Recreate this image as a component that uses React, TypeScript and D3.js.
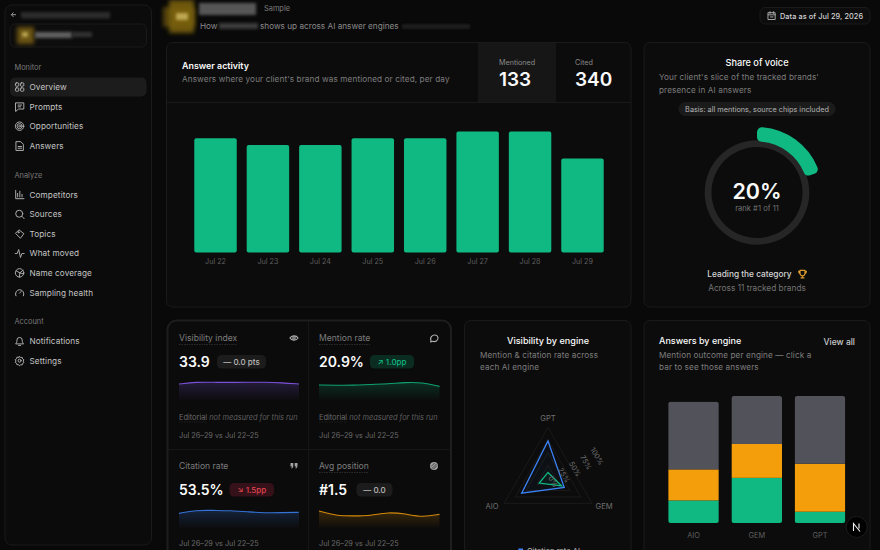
import React, { useEffect, useRef } from 'react'
import * as d3 from 'd3'

const days = ['Jul 22', 'Jul 23', 'Jul 24', 'Jul 25', 'Jul 26', 'Jul 27', 'Jul 28', 'Jul 29']
const dailyAnswers = [17, 16, 16, 17, 17, 18, 18, 14]

const engines = ['AIO', 'GEM', 'GPT']
const engineMentioned = [8, 16, 4]
const engineCitedOnly = [11, 12, 17]
const engineNone = [24, 17, 24]

const radarEngines = ['GPT', 'GEM', 'AIO']
const radarCitation = [73, 37, 60]
const radarMention = [11, 31, 20]
const radarTicks = [0, 25, 50, 75, 100]

const shareOfVoice = 20

const sparkVisibility = [78, 89, 87, 87, 87, 89, 85, 78]
const sparkMention = [73, 71, 71, 76, 78, 87, 87, 65]
const sparkCitation = [69, 87, 85, 84, 78, 71, 73, 75]
const sparkPosition = [82, 56, 55, 56, 76, 67, 47, 64]

const navMonitor = ['Overview', 'Prompts', 'Opportunities', 'Answers']
const navAnalyze = ['Competitors', 'Sources', 'Topics', 'What moved', 'Name coverage', 'Sampling health']
const navAccount = ['Notifications', 'Settings']

const FONT = 'Inter, "Noto Sans", sans-serif'
const GREEN = '#10b981'
const ORANGE = '#f59e0b'
const GREY = '#52525b'
const MUTED = '#7d7d7d'
const WHITE = '#fafafa'
const BORDER = '#1a1a1a'
const CARD = '#0c0c0c'

function Icon({ name, x, y, k = 1 }: { name: string; x: number; y: number; k?: number }) {
  const s = { fill: 'none', stroke: '#b0b0b0', strokeWidth: 1.1, strokeLinecap: 'round', strokeLinejoin: 'round' } as const
  const shapes: Record<string, React.ReactNode> = {
    Overview: (
      <>
        <rect x={0.5} y={0.5} width={3.8} height={3.8} rx={1} />
        <rect x={6.2} y={0.5} width={3.8} height={3.8} rx={1} />
        <rect x={0.5} y={6.2} width={3.8} height={3.8} rx={1} />
        <rect x={6.2} y={6.2} width={3.8} height={3.8} rx={1} />
      </>
    ),
    Prompts: <path d="M1 1h9v7H4L1 10.5zM3.5 3.5h4M3.5 5.5h3" />,
    Opportunities: (
      <>
        <circle cx={5.2} cy={5.2} r={4.8} />
        <circle cx={5.2} cy={5.2} r={2.9} />
        <circle cx={5.2} cy={5.2} r={1} />
      </>
    ),
    Answers: <path d="M1.5.5h5l3 3v7h-8zM3.5 6h4M3.5 8h4" />,
    Competitors: <path d="M.8.5v9.5h9.4M3 8V4M5.5 8V1.5M8 8V5" />,
    Sources: (
      <>
        <circle cx={4.8} cy={4.8} r={4} />
        <path d="M7.8 7.8l2.6 2.6" />
      </>
    ),
    Topics: (
      <>
        <path d="M.8 4.5L4.5.8l5.6 4.4-3.7 4.8z" />
        <circle cx={4} cy={3.6} r={0.7} />
      </>
    ),
    'What moved': <path d="M.3 5.5h2.2L4.2 1l2 9 1.6-4.5h2.6" />,
    'Name coverage': (
      <>
        <circle cx={5.2} cy={5.2} r={4.8} />
        <path d="M1.5 3l4 2.2 3.6-3M5.5 5.2L5 10M5.5 5.2l4.4 1.2" />
      </>
    ),
    'Sampling health': <path d="M1 9a4.8 4.8 0 1 1 8.6 0M5.2 6l1.8-2" />,
    Notifications: <path d="M1 8.2c1-1 1.2-2 1.2-4a3 3 0 0 1 6 0c0 2 .3 3 1.2 4zM4 10.2h2.4" />,
    Settings: (
      <>
        <path d="M5.2.5l1.2 1.3 1.8-.2.4 1.7 1.5 1-.8 1.6.8 1.6-1.5 1-.4 1.6-1.8-.1-1.2 1.2L4 9.8l-1.8.1-.4-1.6-1.5-1 .8-1.6-.8-1.6 1.5-1 .4-1.7 1.8.2z" />
        <circle cx={5.2} cy={5.3} r={1.7} />
      </>
    ),
    calendar: <path d="M1 2h8v8H1zM1 4.5h8M3 .8v2M7 .8v2M3.5 7h3" />,
    eye: (
      <>
        <path d="M.4 4C2 1.4 6.6.9 8.6 4 6.6 7 2 6.6.4 4z" />
        <circle cx={4.5} cy={4} r={1.2} />
      </>
    ),
    bubble: <path d="M1.8 7.6C-.4 3.5 3 .8 5.5 1c3.3.2 4 4 1.7 5.8-1.4.9-2.8.9-3.7.5L1 8z" />,
    quote: (
      <path
        d="M.5 1h2.800v2.800C3.300 5.500 2.400 6.300 1.400 6.500L1.200 5.600c.6-.2 1-.6 1-1.200H.5zM4.700 1h2.800v2.800c0 1.700-.9 2.500-1.900 2.700L5.400 5.600c.6-.2 1-.6 1-1.200H4.700z"
        fill="#a3a3a3"
        stroke="none"
      />
    ),
    target: (
      <>
        <circle cx={4.5} cy={4.5} r={4} fill="#a3a3a3" stroke="none" />
        <path d="M2.5 7l4.500-4.500M1.800 4.800l3-3M4 7.600l3.400-3.400" stroke="#111" strokeWidth={0.7} />
      </>
    ),
    trophy: (
      <path
        d="M2 .8h5v3a2.500 2.500 0 0 1-5 0zM2 1.800H.6c0 1.700.5 2.300 1.600 2.600M7 1.800h1.400c0 1.700-.5 2.300-1.600 2.600M4.500 6.300v1.500M3 8.400h3"
        stroke="#d99a2b"
        strokeWidth={1.2}
      />
    ),
  }
  return (
    <g transform={`translate(${x},${y}) scale(${k})`} {...s}>
      {shapes[name]}
    </g>
  )
}

function Blur({ x, y, w, h, fill, o = 1, f = 'soft' }: { x: number; y: number; w: number; h: number; fill: string; o?: number; f?: string }) {
  return <rect x={x} y={y} width={w} height={h} fill={fill} opacity={o} filter={`url(#${f})`} />
}

function NavItems({ items, y0 }: { items: string[]; y0: number }) {
  return (
    <>
      {items.map((label, i) => (
        <g key={label}>
          <Icon name={label} x={15} y={y0 + i * 19.6 - 4.6} k={0.88} />
          <text x={29.5} y={y0 + i * 19.6 + 3.1} fontSize={8.2} fill="#c4c4c4" letterSpacing={0.1}>
            {label}
          </text>
        </g>
      ))}
    </>
  )
}

function Chip({ x, y, w, fill, color, label }: { x: number; y: number; w: number; fill: string; color: string; label: string }) {
  return (
    <g>
      <rect x={x} y={y} width={w} height={13.5} rx={4.5} fill={fill} />
      <text x={x + w / 2} y={y + 9.8} textAnchor="middle" fontSize={8} fontWeight={500} fill={color}>
        {label}
      </text>
    </g>
  )
}

function Metric({ x, y, title, value, dotted }: { x: number; y: number; title: string; value: string; dotted: number }) {
  return (
    <g>
      <text x={x} y={y + 3.3} fontSize={8.6} fill={MUTED}>
        {title}
      </text>
      {dotted > 0 && <line x1={x} x2={x + dotted} y1={y + 6.5} y2={y + 6.5} stroke="#3a3a3a" strokeWidth={0.7} strokeDasharray="1.5 1" />}
      <text x={x} y={y + 28.5} fontSize={14} fontWeight={600} fill={WHITE}>
        {value}
      </text>
    </g>
  )
}

export default function App() {
  const svgRef = useRef<SVGSVGElement>(null)

  useEffect(() => {
    if (!svgRef.current) return
    const svg = d3.select(svgRef.current)
    const g = svg.select<SVGGElement>('.charts')
    g.selectAll('*').remove()

    const defs = svg.select('defs')

    // answer activity
    const xDay = d3.scaleBand().domain(days).range([189.3, 608.7]).paddingInner(0.19).paddingOuter(0.095)
    const yDay = d3.scaleLinear().domain([0, 18]).range([252.5, 131.5])
    g.append('g')
      .selectAll('rect')
      .data(days)
      .join('rect')
      .attr('x', (d) => xDay(d) as number)
      .attr('y', (_, i) => yDay(dailyAnswers[i]))
      .attr('width', xDay.bandwidth())
      .attr('height', (_, i) => yDay(0) - yDay(dailyAnswers[i]))
      .attr('rx', 2)
      .attr('fill', GREEN)
    const dayAxis = g
      .append('g')
      .attr('transform', 'translate(0,252.5)')
      .call(d3.axisBottom(xDay).tickSize(0).tickPadding(6.5))
    dayAxis.select('.domain').remove()
    dayAxis.selectAll('text').attr('font-size', 7.2).attr('font-family', FONT).attr('fill', '#5f5f5f')

    // share of voice ring
    const ring = g.append('g').attr('transform', 'translate(757,192.5)')
    ring
      .append('path')
      .attr('d', d3.arc()({ innerRadius: 45.5, outerRadius: 52.3, startAngle: 0, endAngle: 2 * Math.PI }) as string)
      .attr('fill', '#262626')
    const shareAngle = d3.scaleLinear().domain([0, 100]).range([0, 2 * Math.PI])
    ring
      .append('path')
      .attr(
        'd',
        d3.arc().cornerRadius(5)({ innerRadius: 51, outerRadius: 65.5, startAngle: 0, endAngle: shareAngle(shareOfVoice) }) as string,
      )
      .attr('fill', GREEN)

    // sparklines
    const xSpark = d3.scaleLinear().domain([0, days.length - 1])
    const ySpark = d3.scaleLinear().domain([0, 100])
    const sparks = [
      { id: 'sv', values: sparkVisibility, color: '#8b5cf6', x0: 179, x1: 299, y0: 398.3, y1: 380 },
      { id: 'sm', values: sparkMention, color: '#10b981', x0: 319, x1: 439.5, y0: 398.3, y1: 380 },
      { id: 'sc', values: sparkCitation, color: '#3b82f6', x0: 179, x1: 299, y0: 526, y1: 507.7 },
      { id: 'sp', values: sparkPosition, color: '#f59e0b', x0: 319, x1: 439.5, y0: 526, y1: 507.7 },
    ]
    sparks.forEach((s) => {
      const x = xSpark.copy().range([s.x0, s.x1])
      const y = ySpark.copy().range([s.y0, s.y1])
      const grad = defs
        .append('linearGradient')
        .attr('id', s.id)
        .attr('x1', 0)
        .attr('x2', 0)
        .attr('y1', 0)
        .attr('y2', 1)
      grad.append('stop').attr('offset', 0).attr('stop-color', s.color).attr('stop-opacity', 0.2)
      grad.append('stop').attr('offset', 1).attr('stop-color', s.color).attr('stop-opacity', 0)
      const area = d3
        .area<number>()
        .x((_, i) => x(i))
        .y0(s.y0 + 3)
        .y1((d) => y(d))
        .curve(d3.curveBasis)
      const line = d3
        .line<number>()
        .x((_, i) => x(i))
        .y((d) => y(d))
        .curve(d3.curveBasis)
      g.append('path').datum(s.values).attr('d', area).attr('fill', `url(#${s.id})`)
      g.append('path')
        .datum(s.values)
        .attr('d', line)
        .attr('fill', 'none')
        .attr('stroke', s.color)
        .attr('stroke-width', 1.1)
        .attr('stroke-opacity', 0.85)
    })

    // radar
    const radar = g.append('g').attr('transform', 'translate(548,478)')
    const rScale = d3.scaleLinear().domain([0, 100]).range([0, 50.7])
    const angle = d3
      .scalePoint<string>()
      .domain(radarEngines)
      .range([0, (2 * Math.PI * 2) / 3])
    const radial = d3
      .lineRadial<number>()
      .angle((_, i) => angle(radarEngines[i]) as number)
      .radius((d) => rScale(d))
      .curve(d3.curveLinearClosed)
    radarTicks.slice(1).forEach((t) => {
      radar
        .append('path')
        .attr('d', radial(radarEngines.map(() => t)))
        .attr('fill', 'none')
        .attr('stroke', '#1a1a1a')
        .attr('stroke-width', 1)
    })
    radar.append('path').attr('d', radial(radarCitation)).attr('fill', '#3b82f6').attr('fill-opacity', 0.04).attr('stroke', '#3b82f6').attr('stroke-width', 1.3)
    radar.append('path').attr('d', radial(radarMention)).attr('fill', GREEN).attr('fill-opacity', 0.06).attr('stroke', GREEN).attr('stroke-width', 1.3)
    radarTicks.forEach((t) => {
      const r = rScale(t)
      const tx = r * Math.cos(Math.PI / 6) + 5
      const ty = -r * Math.sin(Math.PI / 6) + 3.5
      radar
        .append('text')
        .attr('transform', `translate(${tx},${ty}) rotate(60)`)
        .attr('text-anchor', 'middle')
        .attr('dy', '0.35em')
        .attr('font-size', 7.2)
        .attr('font-family', FONT)
        .attr('fill', '#6f6f6f')
        .text(`${t}%`)
    })
    radarEngines.forEach((e) => {
      const a = angle(e) as number
      const r = rScale(100) + 8
      const isTop = e === 'GPT'
      radar
        .append('text')
        .attr('x', Math.sin(a) * r + (isTop ? 0 : Math.sin(a) * 6))
        .attr('y', isTop ? -Math.cos(a) * r + 1.5 : -Math.cos(a) * r + 1.5)
        .attr('text-anchor', 'middle')
        .attr('font-size', 7.6)
        .attr('font-family', FONT)
        .attr('fill', '#6f6f6f')
        .text(e)
    })

    // answers by engine
    const xEngine = d3.scaleBand().domain(engines).range([661.9, 851.6]).paddingInner(0.2).paddingOuter(0.1)
    const yEngine = d3.scaleLinear().domain([0, 45]).range([523, 396])
    const rows = engines.map((engine, i) => ({
      engine,
      mentioned: engineMentioned[i],
      citedOnly: engineCitedOnly[i],
      none: engineNone[i],
    }))
    const stack = d3.stack<(typeof rows)[number]>().keys(['mentioned', 'citedOnly', 'none'])(rows)
    const colors = [GREEN, ORANGE, GREY]
    rows.forEach((row, i) => {
      const top = yEngine(row.mentioned + row.citedOnly + row.none)
      defs
        .append('clipPath')
        .attr('id', `bar-${row.engine}`)
        .append('rect')
        .attr('x', xEngine(row.engine) as number)
        .attr('y', top)
        .attr('width', xEngine.bandwidth())
        .attr('height', yEngine(0) - top)
        .attr('rx', 2.5)
      const bar = g.append('g').attr('clip-path', `url(#bar-${row.engine})`)
      stack.forEach((layer, j) => {
        bar
          .append('rect')
          .attr('x', xEngine(row.engine) as number)
          .attr('y', yEngine(layer[i][1]))
          .attr('width', xEngine.bandwidth())
          .attr('height', yEngine(layer[i][0]) - yEngine(layer[i][1]))
          .attr('fill', colors[j])
      })
    })
    const engineAxis = g
      .append('g')
      .attr('transform', 'translate(0,523)')
      .call(d3.axisBottom(xEngine).tickSize(0).tickPadding(9.5))
    engineAxis.select('.domain').remove()
    engineAxis.selectAll('text').attr('font-size', 7.4).attr('font-family', FONT).attr('fill', '#5f5f5f')
  }, [])

  return (
    <svg
      ref={svgRef}
      width={880}
      height={550}
      viewBox="0 0 880 550"
      style={{ position: 'fixed', left: 0, top: 0, background: '#090909' }}
      fontFamily={FONT}
    >
      <defs>
        <filter id="soft" x="-20%" y="-60%" width="140%" height="220%">
          <feGaussianBlur stdDeviation="1.4" />
        </filter>
        <filter id="softer" x="-30%" y="-30%" width="160%" height="160%">
          <feGaussianBlur stdDeviation="2.2" />
        </filter>
      </defs>

      {/* sidebar */}
      <rect x={5} y={5} width={146.5} height={540} rx={7} fill="#0b0b0b" stroke={BORDER} />
      <path d="M16 14.7h-4.500M13.500 12.500l-2.200 2.200 2.200 2.200" fill="none" stroke="#a8a8a8" strokeWidth={0.9} />
      <Blur x={21} y={12} w={89} h={6.500} fill="#3e3e3e" o={0.65} />
      <rect x={10} y={24} width={136.5} height={23} rx={5} fill="#0d0d0d" stroke={BORDER} />
      <Blur x={17} y={27} w={17} h={17} fill="#8a6c14" o={0.75} f="softer" />
      <Blur x={22} y={32} w={6} h={5} fill="#c9b45e" o={0.8} />
      <Blur x={35} y={32} w={37} h={6} fill="#5e5e5e" />
      <Blur x={72} y={32} w={20} h={5} fill="#303030" />

      <text x={14.5} y={70} fontSize={7.4} fill="#787878">Monitor</text>
      <rect x={10} y={77.5} width={136.5} height={19} rx={5} fill="#1c1c1c" />
      <NavItems items={navMonitor} y0={87} />
      <text x={14.5} y={177.5} fontSize={7.4} fill="#787878">Analyze</text>
      <NavItems items={navAnalyze} y0={194.5} />
      <text x={14.5} y={324} fontSize={7.4} fill="#787878">Account</text>
      <NavItems items={navAccount} y0={341} />

      {/* header */}
      <Blur x={163} y={7} w={32} h={20} fill="#65500f" o={0.8} f="softer" />
      <Blur x={169} y={0} w={25} h={33} fill="#7d6310" o={0.85} f="softer" />
      <Blur x={176} y={13} w={12} h={7} fill="#c9b45e" o={0.85} />
      <Blur x={199} y={3} w={57} h={12} fill="#565656" />
      <text x={264} y={11} fontSize={7.4} fill="#7d7d7d">Sample</text>
      <text x={200} y={29} fontSize={8.2} fill="#8a8a8a">How</text>
      <Blur x={219} y={23} w={39} h={6} fill="#3a3a3a" />
      <text x={260} y={29} fontSize={8.2} fill="#8a8a8a">shows up across AI answer engines</text>
      <Blur x={402} y={24} w={68} h={5} fill="#1c1c1c" />

      <rect x={760} y={7.5} width={110} height={16.5} rx={5} fill="#0d0d0d" stroke={BORDER} />
      <Icon name="calendar" x={767.5} y={11} k={0.85} />
      <text x={780} y={18.5} fontSize={7.3} fontWeight={500} fill="#d4d4d4" letterSpacing={0.1}>Data as of Jul 29, 2026</text>

      {/* answer activity */}
      <rect x={166.5} y={42.5} width={464.5} height={264.5} rx={6} fill={CARD} stroke={BORDER} />
      <rect x={478} y={43} width={78} height={59} fill="#161616" />
      <line x1={167} x2={631} y1={102.5} y2={102.5} stroke={BORDER} />
      <text x={182} y={69} fontSize={8.9} fontWeight={600} fill={WHITE}>Answer activity</text>
      <text x={182} y={82} fontSize={8.2} fill={MUTED} letterSpacing={0.1}>Answers where your client's brand was mentioned or cited, per day</text>
      <text x={499} y={65} fontSize={7.2} fill="#8a8a8a">Mentioned</text>
      <text x={499} y={86} fontSize={19} fontWeight={600} fill={WHITE}>133</text>
      <text x={575} y={65} fontSize={7.2} fill="#8a8a8a">Cited</text>
      <text x={575} y={86} fontSize={19} fontWeight={600} fill={WHITE}>340</text>

      {/* share of voice */}
      <rect x={644} y={42.5} width={226} height={264.5} rx={6} fill={CARD} stroke={BORDER} />
      <text x={757} y={66} textAnchor="middle" fontSize={9.2} fontWeight={500} fill={WHITE}>Share of voice</text>
      <text x={659} y={80} fontSize={8.2} fill={MUTED} letterSpacing={0.1}>Your client's slice of the tracked brands'</text>
      <text x={659} y={92.5} fontSize={8.2} fill={MUTED} letterSpacing={0.1}>presence in AI answers</text>
      <rect x={678.5} y={102} width={157} height={14} rx={7} fill="#1b1b1b" />
      <text x={757} y={112} textAnchor="middle" fontSize={7.3} fill="#b5b5b5">Basis: all mentions, source chips included</text>
      <text x={757} y={198.5} textAnchor="middle" fontSize={21.5} fontWeight={600} fill={WHITE}>20%</text>
      <text x={757} y={210.5} textAnchor="middle" fontSize={7.6} fill="#737373">rank #1 of 11</text>
      <text x={749.5} y={277} textAnchor="middle" fontSize={8.3} fontWeight={500} fill="#d4d4d4">Leading the category</text>
      <Icon name="trophy" x={798} y={269.5} />
      <text x={757} y={291} textAnchor="middle" fontSize={8.3} fill="#737373">Across 11 tracked brands</text>

      {/* metric grid */}
      <rect x={167.5} y={320.5} width={283.5} height={250} rx={9} fill="#0b0b0b" stroke="#1e1e1e" strokeWidth={2} />
      <line x1={308.5} x2={308.5} y1={321} y2={560} stroke="#161616" />
      <line x1={168} x2={450} y1={449.5} y2={449.5} stroke="#161616" />
      <Metric x={179} y={338} title="Visibility index" value="33.9" dotted={58} />
      <Metric x={319} y={338} title="Mention rate" value="20.9%" dotted={51} />
      <Metric x={179} y={466} title="Citation rate" value="53.5%" dotted={0} />
      <Metric x={319} y={466} title="Avg position" value="#1.5" dotted={50} />
      <Icon name="eye" x={289.5} y={334} />
      <Icon name="bubble" x={429.5} y={334} />
      <Icon name="quote" x={290} y={462} />
      <Icon name="target" x={429.5} y={461.5} />
      <Chip x={217} y={355} w={49} fill="#1c1c1c" color="#bdbdbd" label="— 0.0 pts" />
      <Chip x={370} y={355} w={44} fill="#0a2c21" color="#10b981" label="↗ 1.0pp" />
      <Chip x={229.5} y={483} w={44.5} fill="#35111a" color="#e0454f" label="↘ 1.5pp" />
      <Chip x={356.5} y={483} w={36} fill="#1c1c1c" color="#bdbdbd" label="— 0.0" />
      {[179, 319].map((x) => (
        <g key={x}>
          <text x={x} y={419.5} fontSize={7.4} fill="#6a6a6a">
            Editorial <tspan fontStyle="italic" fill="#5f5f5f">not measured for this run</tspan>
          </text>
          <line x1={x} x2={x + 28} y1={422} y2={422} stroke="#2c2c2c" strokeWidth={0.6} strokeDasharray="1.5 1" />
          <text x={x} y={437.5} fontSize={7.3} fill="#6a6a6a">Jul 26–29 vs Jul 22–25</text>
          <text x={x} y={546} fontSize={7.3} fill="#6a6a6a">Jul 26–29 vs Jul 22–25</text>
        </g>
      ))}

      {/* visibility by engine */}
      <rect x={464.5} y={320.5} width={166.5} height={250} rx={6} fill={CARD} stroke={BORDER} />
      <text x={548} y={343.5} textAnchor="middle" fontSize={9.1} fontWeight={500} fill={WHITE}>Visibility by engine</text>
      <text x={480} y={357.5} fontSize={8.2} fill={MUTED} letterSpacing={0.1}>Mention &amp; citation rate across</text>
      <text x={480} y={370} fontSize={8.2} fill={MUTED} letterSpacing={0.1}>each AI engine</text>
      <rect x={518.3} y={548.5} width={4.7} height={5} fill="#3b82f6" />
      <text x={527} y={554} fontSize={7.6} fill="#bdbdbd">Citation rate AI</text>

      {/* answers by engine */}
      <rect x={644} y={320.5} width={226} height={250} rx={6} fill={CARD} stroke={BORDER} />
      <text x={659} y={343.5} fontSize={9} fontWeight={500} fill={WHITE}>Answers by engine</text>
      <text x={855} y={344.5} textAnchor="end" fontSize={8.5} fontWeight={500} fill="#c9c9c9">View all</text>
      <text x={659} y={357.5} fontSize={8.2} fill={MUTED} letterSpacing={0.1}>Mention outcome per engine — click a</text>
      <text x={659} y={370} fontSize={8.2} fill={MUTED} letterSpacing={0.1}>bar to see those answers</text>

      <g className="charts" />

      {/* dev badge */}
      <circle cx={856.7} cy={527} r={10.5} fill="#000" stroke="#1c1c1c" />
      <path d="M853.5 531v-7.500l6.500 8M859 523.5v5" fill="none" stroke="#f2f2f2" strokeWidth={1.1} />
    </svg>
  )
}
